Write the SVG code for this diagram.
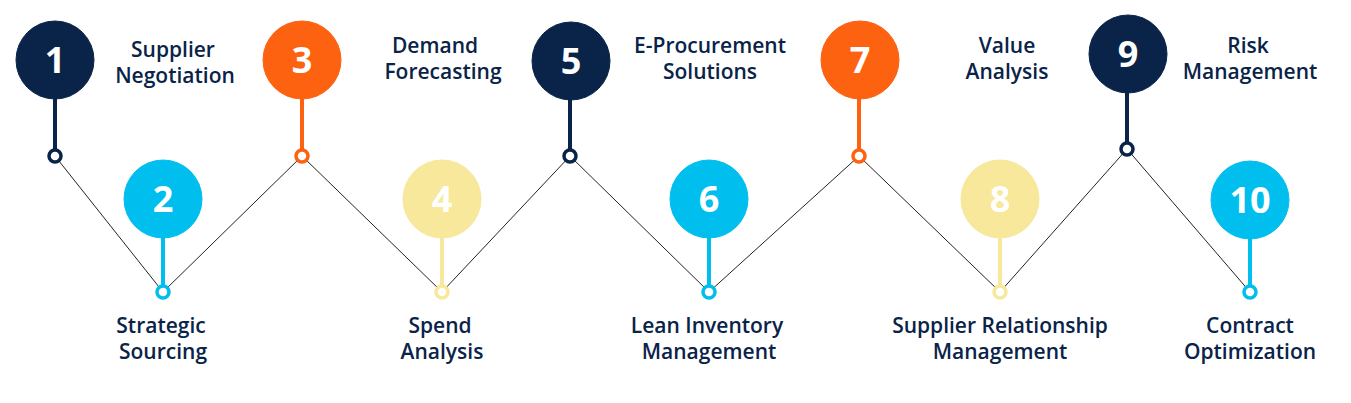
<svg xmlns="http://www.w3.org/2000/svg" width="1351" height="403" viewBox="0 0 1351 403">
<style>
.n{fill:#0a2348;stroke:#0a2348}.o{fill:#fd6211;stroke:#fd6211}.c{fill:#00bfee;stroke:#00bfee}.y{fill:#f7e89c;stroke:#f7e89c}
.ring{fill:#fff;stroke-width:3.5}
.stem{stroke-width:4}
text.lbl{font-family:"Open Sans",sans-serif;font-size:21px;fill:#0a2348;stroke:none;text-anchor:middle;font-weight:600}
text.num{font-family:"Open Sans",sans-serif;font-size:36px;fill:#fff;stroke:none;text-anchor:middle;font-weight:700}
</style>
<rect width="1351" height="403" fill="#fff"/>
<g id="connectors"><polyline points="55,156 163,292 302,156 442,292 570,156 709,292 859,156 1000,292 1127,149 1250,292" fill="none" stroke="#222" stroke-width="1"/></g>
<g id="n1" class="n"><line class="stem n" x1="55" y1="95" x2="55" y2="150"/><circle cx="55" cy="60" r="39"/><circle class="ring" cx="55" cy="156" r="6"/><text class="num" x="55" y="73">1</text><text class="lbl" x="173" y="57">Supplier</text><text class="lbl" x="175" y="83">Negotiation</text></g>
<g id="n2" class="c"><line class="stem c" x1="163" y1="235" x2="163" y2="286"/><circle cx="163" cy="199" r="39"/><circle class="ring" cx="163" cy="292" r="6"/><text class="num" x="163" y="212">2</text><text class="lbl" x="161" y="333">Strategic</text><text class="lbl" x="163" y="359">Sourcing</text></g>
<g id="n3" class="o"><line class="stem o" x1="302" y1="95" x2="302" y2="150"/><circle cx="302" cy="60" r="39"/><circle class="ring" cx="302" cy="156" r="6"/><text class="num" x="302" y="73">3</text><text class="lbl" x="435" y="53">Demand</text><text class="lbl" x="443" y="79">Forecasting</text></g>
<g id="n4" class="y"><line class="stem y" x1="442" y1="235" x2="442" y2="286"/><circle cx="442" cy="199" r="39"/><circle class="ring" cx="442" cy="292" r="6"/><text class="num" x="442" y="212">4</text><text class="lbl" x="440" y="333">Spend</text><text class="lbl" x="442" y="359">Analysis</text></g>
<g id="n5" class="n"><line class="stem n" x1="570" y1="95" x2="570" y2="150"/><circle cx="571" cy="61" r="39"/><circle class="ring" cx="570" cy="156" r="6"/><text class="num" x="571" y="74">5</text><text class="lbl" x="710" y="53">E-Procurement</text><text class="lbl" x="710" y="79">Solutions</text></g>
<g id="n6" class="c"><line class="stem c" x1="709" y1="235" x2="709" y2="286"/><circle cx="709" cy="199" r="39"/><circle class="ring" cx="709" cy="292" r="6"/><text class="num" x="709" y="212">6</text><text class="lbl" x="707" y="333">Lean Inventory</text><text class="lbl" x="709" y="359">Management</text></g>
<g id="n7" class="o"><line class="stem o" x1="859" y1="95" x2="859" y2="150"/><circle cx="860" cy="60" r="39"/><circle class="ring" cx="859" cy="156" r="6"/><text class="num" x="860" y="73">7</text><text class="lbl" x="1007" y="53">Value</text><text class="lbl" x="1007" y="79">Analysis</text></g>
<g id="n8" class="y"><line class="stem y" x1="1000" y1="235" x2="1000" y2="286"/><circle cx="1000" cy="199" r="39"/><circle class="ring" cx="1000" cy="292" r="6"/><text class="num" x="1000" y="212">8</text><text class="lbl" x="1000" y="333">Supplier Relationship</text><text class="lbl" x="1000" y="359">Management</text></g>
<g id="n9" class="n"><line class="stem n" x1="1127" y1="90" x2="1127" y2="143"/><circle cx="1128" cy="54" r="39"/><circle class="ring" cx="1127" cy="149" r="6"/><text class="num" x="1128" y="67">9</text><text class="lbl" x="1248" y="53">Risk</text><text class="lbl" x="1250" y="79">Management</text></g>
<g id="n10" class="c"><line class="stem c" x1="1250" y1="235" x2="1250" y2="286"/><circle cx="1250" cy="200" r="39"/><circle class="ring" cx="1250" cy="292" r="6"/><text class="num" x="1250" y="213">10</text><text class="lbl" x="1250" y="333">Contract</text><text class="lbl" x="1250" y="359">Optimization</text></g>
</svg>
